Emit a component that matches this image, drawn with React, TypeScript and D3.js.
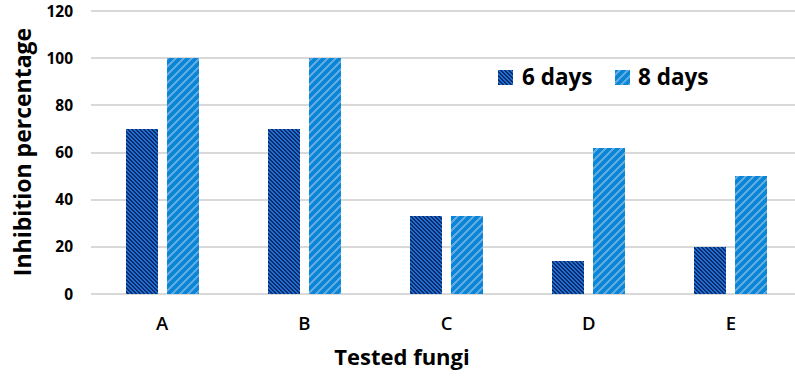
import React from "react";
import * as d3 from "d3";

const categories = ["A", "B", "C", "D", "E"];
const seriesNames = ["6 days", "8 days"];
const days6 = [70, 70, 33, 14, 20];
const days8 = [100, 100, 33, 62, 50];
const yTicks = [0, 20, 40, 60, 80, 100, 120];

const W = 795;
const H = 377;
const FONT = "'Open Sans', 'DejaVu Sans', sans-serif";

function PatternTile({ id, size, bg, fg, test }: { id: string; size: number; bg: string; fg: string; test: (x: number, y: number) => boolean }) {
  const cells: React.ReactElement[] = [];
  d3.range(size).forEach((yy) => {
    d3.range(size).forEach((xx) => {
      if (test(xx, yy)) cells.push(<rect key={`${xx}-${yy}`} x={xx} y={yy} width={1} height={1} fill={fg} />);
    });
  });
  return (
    <pattern id={id} patternUnits="userSpaceOnUse" width={size} height={size}>
      <rect width={size} height={size} fill={bg} />
      {cells}
    </pattern>
  );
}

export default function App() {
  const x = d3.scaleBand<string>().domain(categories).range([91, 802]);
  const y = d3.scaleLinear().domain([0, 120]).range([294, 11]);
  const barW = 32;
  const gap = 9;
  const data = categories.map((c, i) => ({ c, v6: days6[i], v8: days8[i] }));

  return (
    <svg width={W} height={H} style={{ position: "absolute", left: 0, top: 0, background: "#fff" }} shapeRendering="crispEdges">
      <defs>
        <PatternTile id="p6" size={4} bg="#0c2a6c" fg="#1f6fd0" test={(xx, yy) => (((xx - yy) % 4) + 4) % 4 < 2} />
        <PatternTile id="p8" size={8} bg="#0b85d5" fg="#5eaae3" test={(xx, yy) => (xx + yy) % 8 < 3} />
      </defs>
      {yTicks.map((t) => (
        <g key={t}>
          <line x1={91} x2={W} y1={y(t)} y2={y(t)} stroke="#d9d9d9" strokeWidth={2} />
          <text x={73} y={y(t)} dy="0.36em" textAnchor="end" fontFamily={FONT} fontWeight={700} fontSize={15.5} fill="#000">
            {t}
          </text>
        </g>
      ))}
      {data.map((d) => {
        const c = (x(d.c) as number) + x.bandwidth() / 2;
        return (
          <g key={d.c}>
            <rect x={c - gap / 2 - barW} y={y(d.v6)} width={barW} height={y(0) - y(d.v6)} fill="url(#p6)" />
            <rect x={c + gap / 2} y={y(d.v8)} width={barW} height={y(0) - y(d.v8)} fill="url(#p8)" />
            <text x={c} y={330} textAnchor="middle" fontFamily={FONT} fontWeight={600} fontSize={18.5} fill="#000">
              {d.c}
            </text>
          </g>
        );
      })}
      <text transform="translate(31,152) rotate(-90)" textAnchor="middle" fontFamily={FONT} fontWeight={700} fontSize={23} fill="#000">
        Inhibition percentage
      </text>
      <text x={402} y={365} textAnchor="middle" fontFamily={FONT} fontWeight={700} fontSize={22} fill="#000">
        Tested fungi
      </text>
      <g>
        <rect x={498} y={70} width={15} height={15} fill="url(#p6)" />
        <text x={522} y={85} fontFamily={FONT} fontWeight={700} fontSize={22.5} fill="#000">
          {seriesNames[0]}
        </text>
        <rect x={615} y={70} width={15} height={15} fill="url(#p8)" />
        <text x={638} y={85} fontFamily={FONT} fontWeight={700} fontSize={22.5} fill="#000">
          {seriesNames[1]}
        </text>
      </g>
    </svg>
  );
}
